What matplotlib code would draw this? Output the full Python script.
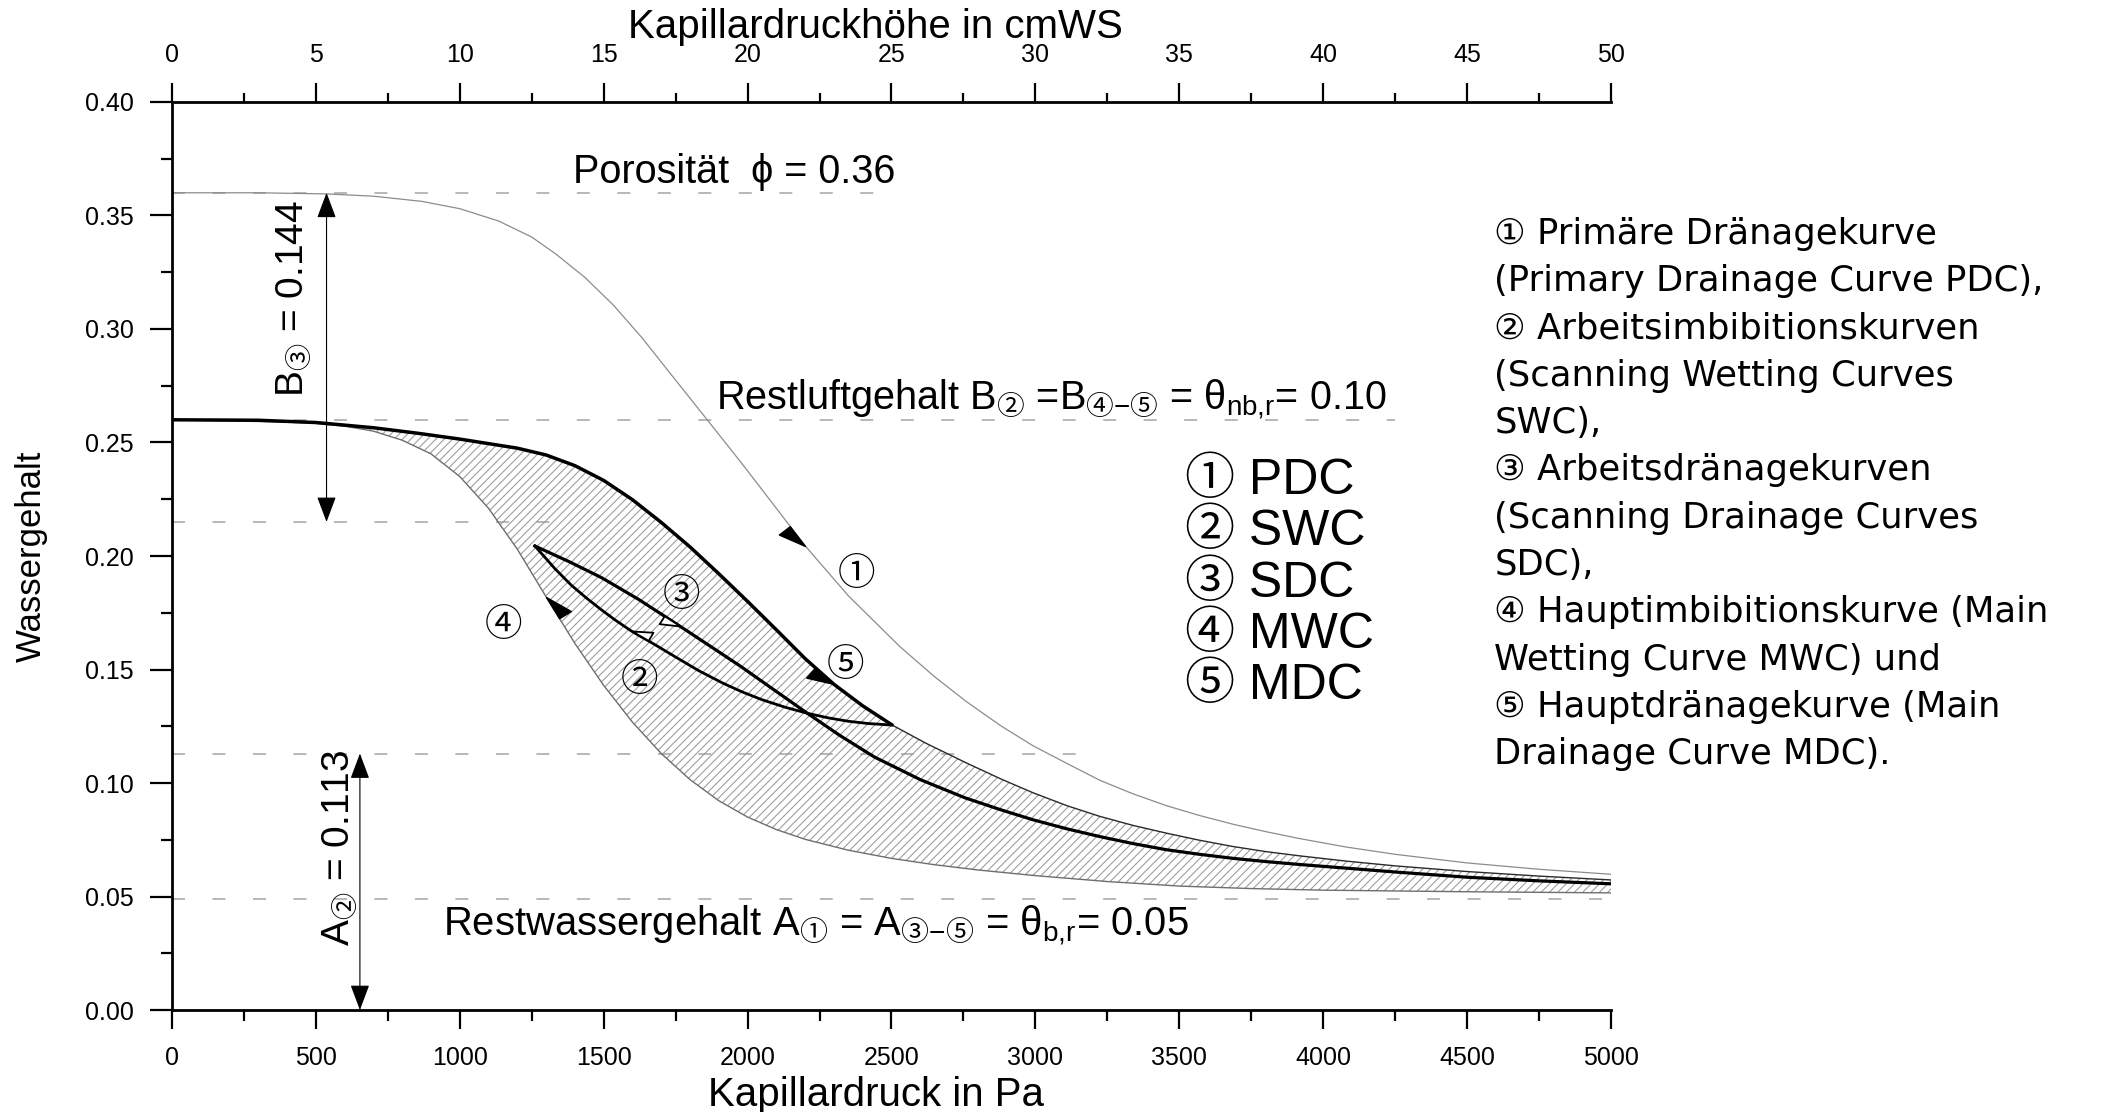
import math
import numpy as np
import matplotlib
matplotlib.use("Agg")
import matplotlib.pyplot as plt
from matplotlib.ticker import MultipleLocator, FormatStrFormatter
from matplotlib.markers import MarkerStyle
from matplotlib.path import Path
from matplotlib.transforms import Affine2D

# Kapillardruck [Pa] und Wassergehalt [-]
# (1) Primaere Draenagekurve
pdc_p = [0, 300, 537, 700, 869, 1000, 1136, 1250, 1334, 1434, 1534, 1634, 1734,
         1800, 1866, 1935, 2000, 2100, 2200, 2350, 2530, 2650, 2761, 2880, 2992,
         3110, 3224, 3340, 3456, 3570, 3688, 3800, 3919, 4080, 4250, 4500, 4750, 5000]
pdc_t = [0.3600, 0.3600, 0.3595, 0.3585, 0.3562, 0.3530, 0.3475, 0.3405, 0.3330,
         0.3228, 0.3105, 0.2960, 0.2800, 0.2695, 0.2590, 0.2480, 0.2375, 0.2210,
         0.2045, 0.1825, 0.1600, 0.1468, 0.1358, 0.1252, 0.1164, 0.1086, 0.1012,
         0.0952, 0.0900, 0.0857, 0.0818, 0.0786, 0.0755, 0.0718, 0.0686, 0.0648,
         0.0620, 0.0598]

# (5) Hauptdraenagekurve (dick bis zum Umkehrpunkt, danach duenn)
mdc_p = [0, 300, 500, 700, 858, 1000, 1100, 1200, 1300, 1400, 1500, 1600, 1700,
         1800, 1900, 2000, 2100, 2200, 2300, 2400, 2503, 2620, 2761, 2880, 2992,
         3110, 3224, 3340, 3456, 3570, 3688, 3800, 3919, 4080, 4250, 4500, 4750, 5000]
mdc_t = [0.2600, 0.2598, 0.2588, 0.2565, 0.2540, 0.2515, 0.2495, 0.2475, 0.2445,
         0.2398, 0.2333, 0.2248, 0.2148, 0.2040, 0.1922, 0.1800, 0.1675, 0.1548,
         0.1435, 0.1340, 0.1255, 0.1175, 0.1088, 0.1018, 0.0957, 0.0900, 0.0853,
         0.0813, 0.0779, 0.0748, 0.0720, 0.0698, 0.0679, 0.0656, 0.0635, 0.0610,
         0.0590, 0.0573]
mdc_reversal = 2503

# (4) Hauptimbibitionskurve
mwc_p = [0, 400, 500, 600, 700, 800, 900, 1000, 1100, 1200, 1300, 1400, 1500, 1600,
         1700, 1800, 1900, 2000, 2100, 2200, 2350, 2500, 2650, 2800, 3000, 3250,
         3500, 3750, 4000, 4500, 5000]
mwc_t = [0.2600, 0.2590, 0.2584, 0.2572, 0.2550, 0.2510, 0.2450, 0.2350, 0.2210,
         0.2030, 0.1820, 0.1615, 0.1430, 0.1268, 0.1130, 0.1015, 0.0922, 0.0850,
         0.0795, 0.0752, 0.0704, 0.0668, 0.0640, 0.0617, 0.0592, 0.0566, 0.0546,
         0.0535, 0.0528, 0.0521, 0.0516]

# (2) Arbeitsimbibitionskurve (vom unteren zum oberen Umkehrpunkt)
swc_p = [2503, 2420, 2350, 2280, 2208, 2130, 2050, 1980, 1914, 1830, 1750, 1680,
         1598, 1540, 1490, 1440, 1387, 1330, 1261]
swc_t = [0.1255, 0.1262, 0.1272, 0.1287, 0.1307, 0.1334, 0.1367, 0.1402, 0.1440,
         0.1495, 0.1555, 0.1608, 0.1668, 0.1718, 0.1765, 0.1815, 0.1872, 0.1945,
         0.2044]

# (3) Arbeitsdraenagekurve
sdc_p = [1261, 1380, 1492, 1620, 1766, 1870, 1977, 2090, 2208, 2320, 2440, 2600,
         2755, 2880, 2992, 3110, 3224, 3340, 3456, 3570, 3688, 3800, 3919, 4080,
         4250, 4500, 4750, 5000]
sdc_t = [0.2044, 0.1975, 0.1905, 0.1810, 0.1690, 0.1603, 0.1513, 0.1412, 0.1307,
         0.1210, 0.1115, 0.1015, 0.0935, 0.0882, 0.0838, 0.0798, 0.0764, 0.0733,
         0.0706, 0.0686, 0.0668, 0.0654, 0.0641, 0.0625, 0.0608, 0.0585, 0.0569,
         0.0556]

# gestrichelte Hilfslinien: Niveau, Ende [Pa]
ref_level = [0.36, 0.26, 0.215, 0.113, 0.049]
ref_end = [2500, 4250, 1370, 3200, 5030]

legend_nr = ["①", "②", "③", "④", "⑤"]
legend_abbr = ["PDC", "SWC", "SDC", "MWC", "MDC"]

desc_lines = [
    "① Primäre Dränagekurve",
    "(Primary Drainage Curve PDC),",
    "② Arbeitsimbibitionskurven",
    "(Scanning Wetting Curves",
    "SWC),",
    "③ Arbeitsdränagekurven",
    "(Scanning Drainage Curves",
    "SDC),",
    "④ Hauptimbibitionskurve (Main",
    "Wetting Curve MWC) und",
    "⑤ Hauptdränagekurve (Main",
    "Drainage Curve MDC).",
]

plt.rcParams['font.family'] = ['Liberation Sans', 'Noto Sans CJK JP']
plt.rcParams['mathtext.fontset'] = 'custom'
plt.rcParams['mathtext.rm'] = 'Noto Sans CJK JP'
plt.rcParams['mathtext.it'] = 'Noto Sans CJK JP'
plt.rcParams['mathtext.bf'] = 'Noto Sans CJK JP:bold'
plt.rcParams['hatch.linewidth'] = 0.75

fig = plt.figure(figsize=(21.05, 11.12), dpi=100)
ax = fig.add_axes([0.0817, 0.0917, 0.6836, 0.8166])
ax.set_xlim(0, 5000)
ax.set_ylim(0, 0.40)

# Hilfslinien
for lev, end in zip(ref_level, ref_end):
    ax.plot([0, end], [lev, lev], color='#a4a4a4', lw=1.1, dashes=(8.5, 18),
            zorder=1, clip_on=False)

# schraffierter Hysteresebereich
ax.fill(mdc_p + mwc_p[::-1], mdc_t + mwc_t[::-1], facecolor='none',
        edgecolor='#999999', hatch='////', linewidth=0, zorder=1.5)

ax.plot(pdc_p, pdc_t, color='#8c8c8c', lw=0.9, zorder=2)
ax.plot(mwc_p, mwc_t, color='#6e6e6e', lw=1.0, zorder=2)
k = mdc_p.index(mdc_reversal)
ax.plot(mdc_p[k:], mdc_t[k:], color='#2a2a2a', lw=1.0, zorder=2)
ax.plot(mdc_p[:k + 1], mdc_t[:k + 1], color='black', lw=2.5, zorder=3,
        solid_capstyle='butt')
ax.plot(swc_p, swc_t, color='black', lw=2.0, zorder=3)
ax.plot(sdc_p, sdc_t, color='black', lw=2.3, zorder=3)


def half_head(xs, ys, i, j, filled):
    # halbe Pfeilspitze bei Punkt i, Richtung von j nach i
    a = ax.transData.transform((xs[i], ys[i]))
    b = ax.transData.transform((xs[j], ys[j]))
    ang = math.degrees(math.atan2(a[1] - b[1], a[0] - b[0]))
    w = 0.55 if filled else 0.5
    path = Path([(0, 0), (-1, 0), (-1, -w), (0, 0)],
                [Path.MOVETO, Path.LINETO, Path.LINETO, Path.CLOSEPOLY])
    m = MarkerStyle(path, transform=Affine2D().rotate_deg(ang))
    ax.plot(xs[i], ys[i], marker=m, ms=36 if filled else 27, ls='none',
            mec='black', mew=1.0 if filled else 1.3,
            mfc='black' if filled else 'white', zorder=6)


half_head(pdc_p, pdc_t, pdc_p.index(2200), pdc_p.index(2100), True)
half_head(mdc_p, mdc_t, mdc_p.index(2300), mdc_p.index(2200), True)
half_head(mwc_p, mwc_t, mwc_p.index(1300), mwc_p.index(1400), True)
half_head(swc_p, swc_t, swc_p.index(1598), swc_p.index(1680), False)
half_head(sdc_p, sdc_t, sdc_p.index(1766), sdc_p.index(1620), False)

# Ziffern an den Kurven
cj = ['Noto Sans CJK JP']
ax.text(2379, 0.192, "①", fontsize=27, family=cj, ha='center', va='center')
ax.text(1623, 0.1453, "②", fontsize=27, family=cj, ha='center', va='center')
ax.text(1772, 0.1826, "③", fontsize=27, family=cj, ha='center', va='center')
ax.text(1152, 0.1696, "④", fontsize=27, family=cj, ha='center', va='center')
ax.text(2341, 0.1518, "⑤", fontsize=27, family=cj, ha='center', va='center')

# Legende im Diagramm
for n, (nr, ab) in enumerate(zip(legend_nr, legend_abbr)):
    ax.text(3520, 0.2331 - n * 0.02255, nr + " " + ab, fontsize=36,
            ha='left', va='center')

# Masspfeile
arrow = dict(arrowstyle='<|-|>,head_length=0.8,head_width=0.3', color='black',
             lw=0.8, shrinkA=0, shrinkB=0, mutation_scale=20)
ax.annotate("", xy=(537, 0.36), xytext=(537, 0.215), arrowprops=arrow, zorder=4)
ax.annotate("", xy=(653, 0.113), xytext=(653, 0.0), arrowprops=arrow, zorder=4,
            annotation_clip=False)
ax.text(425, 0.3136, r"$\mathdefault{B}_{\mathrm{③}}$ = 0.144", fontsize=28,
        rotation=90, ha='center', va='center')
ax.text(585, 0.0715, r"$\mathdefault{A}_{\mathrm{②}}$ = 0.113", fontsize=28,
        rotation=90, ha='center', va='center')

ax.text(1394, 0.3643, "Porosität  ϕ = 0.36", fontsize=28.5,
        family=['Liberation Sans', 'DejaVu Sans'], ha='left', va='baseline')
ax.text(1889, 0.2648,
        r"Restluftgehalt $\mathdefault{B}_{\mathrm{②}}$ =$\mathdefault{B}_{\mathrm{④}\mathdefault{-}\mathrm{⑤}}$"
        r" = $\mathdefault{θ}_{\mathdefault{nb{,}r}}$= 0.10",
        fontsize=28.5, ha='left', va='baseline')
ax.text(942, 0.0328,
        r"Restwassergehalt $\mathdefault{A}_{\mathrm{①}}$ = $\mathdefault{A}_{\mathrm{③}\mathdefault{-}\mathrm{⑤}}$"
        r" = $\mathdefault{θ}_{\mathdefault{b{,}r}}$= 0.05",
        fontsize=28.8, ha='left', va='baseline')

# Achsen
ax.spines['right'].set_visible(False)
ax.spines['top'].set_visible(False)
for s in ('left', 'bottom'):
    ax.spines[s].set_linewidth(2.0)
ax.xaxis.set_major_locator(MultipleLocator(500))
ax.xaxis.set_minor_locator(MultipleLocator(250))
ax.yaxis.set_major_locator(MultipleLocator(0.05))
ax.yaxis.set_minor_locator(MultipleLocator(0.025))
ax.yaxis.set_major_formatter(FormatStrFormatter('%.2f'))
ax.tick_params(which='major', length=14, width=1.6, labelsize=18, pad=12)
ax.tick_params(which='minor', length=8, width=1.6)
ax.tick_params(axis='y', which='major', length=15.5)
ax.set_xlabel("Kapillardruck in Pa", fontsize=29, labelpad=4)
ax.xaxis.label.set_x(0.489)
ax.set_ylabel("Wassergehalt", fontsize=25, labelpad=27)

sec = ax.secondary_xaxis('top', functions=(lambda p: p / 100.0, lambda h: h * 100.0))
sec.spines['top'].set_linewidth(2.0)
sec.xaxis.set_major_locator(MultipleLocator(5))
sec.xaxis.set_minor_locator(MultipleLocator(2.5))
sec.tick_params(which='major', length=13.5, width=1.6, labelsize=18, pad=12)
sec.tick_params(which='minor', length=6.5, width=1.6)
sec.set_xlabel("Kapillardruckhöhe in cmWS", fontsize=29, labelpad=3)
sec.xaxis.label.set_x(0.489)

# Beschreibung rechts
for n, line in enumerate(desc_lines):
    fig.text(0.7098, 0.7810 - n * 0.04259, line, fontsize=25.5,
             family=['DejaVu Sans', 'Noto Sans CJK JP'], va='baseline')

fig.savefig("out.png", dpi=100)
